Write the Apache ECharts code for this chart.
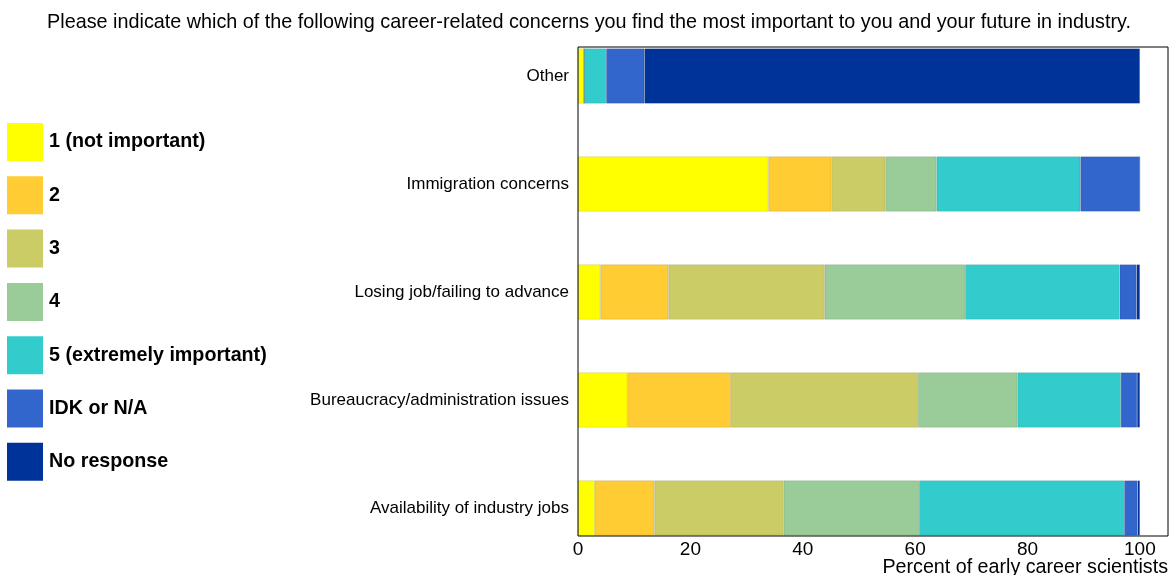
<!DOCTYPE html>
<html>
<head>
<meta charset="utf-8">
<script src="https://cdn.jsdelivr.net/npm/echarts@6/dist/echarts.min.js"></script>
<style>
html,body{margin:0;padding:0;background:#fff;}
#chart{width:1169px;height:575px;}
</style>
</head>
<body>
<div id="chart"></div>
<script>
// Categories, bottom to top
const categories = ['Availability of industry jobs', 'Bureaucracy/administration issues', 'Losing job/failing to advance', 'Immigration concerns', 'Other'];
const seriesNames = ['1 (not important)', '2', '3', '4', '5 (extremely important)', 'IDK or N/A', 'No response'];
const colors = ['#FFFF00', '#FFCC33', '#CCCC66', '#99CC99', '#33CCCC', '#3366CC', '#003399'];
// Percent values per response level, following category order above
const s1  = [3.0, 8.8, 4.0, 33.9, 1.1];
const s2  = [10.6, 18.4, 12.1, 11.2, 0];
const s3  = [23.0, 33.3, 27.8, 9.6, 0];
const s4  = [24.1, 17.7, 25.0, 9.1, 0];
const s5  = [36.5, 18.4, 27.5, 25.6, 3.9];
const sIdk = [2.4, 2.9, 3.0, 10.6, 6.8];
const sNr  = [0.4, 0.5, 0.6, 0, 88.2];
const xTicks = [0, 20, 40, 60, 80, 100];
const titleText = 'Please indicate which of the following career-related concerns you find the most important to you and your future in industry.';
const xName = 'Percent of early career scientists';

const allValues = [s1, s2, s3, s4, s5, sIdk, sNr];
const chart = echarts.init(document.getElementById('chart'));
const font = 'Liberation Sans, Arial, sans-serif';

const series = allValues.map((vals, i) => ({
  name: seriesNames[i],
  type: 'bar',
  stack: 'total',
  xAxisIndex: 0,
  yAxisIndex: 0,
  barWidth: '51%',
  data: vals,
  itemStyle: { color: colors[i], borderColor: 'rgba(0,0,0,0.18)', borderWidth: 0.6 },
  emphasis: { disabled: true },
  animation: false
}));

chart.setOption({
  animation: false,
  textStyle: { fontFamily: font },
  title: {
    text: titleText,
    left: 584,
    textAlign: 'center',
    top: 8,
    textStyle: { fontFamily: font, fontSize: 19.8, fontWeight: 'normal', color: '#000' }
  },
  legend: {
    orient: 'vertical',
    left: 7,
    top: 123,
    padding: 0,
    icon: 'rect',
    itemWidth: 36,
    itemHeight: 38,
    itemGap: 15.3,
    selectedMode: false,
    data: seriesNames,
    itemStyle: { borderWidth: 0 },
    textStyle: { fontFamily: font, fontSize: 19.7, fontWeight: 'bold', color: '#000', padding: [2, 0, 0, 1] }
  },
  grid: [
    { left: 578, width: 590, top: 22, height: 540, containLabel: false },
    { left: 578, width: 590, top: 47, height: 489, show: true, borderColor: '#000', borderWidth: 1, backgroundColor: 'transparent', z: 10 }
  ],
  xAxis: [
    { gridIndex: 0, type: 'value', min: 0, max: 105, show: false, splitLine: { show: false } },
    { gridIndex: 1, type: 'value', min: 0, max: 105, interval: 20,
      axisLine: { show: false }, axisTick: { show: false }, splitLine: { show: false },
      axisLabel: { showMaxLabel: false, margin: 4, fontSize: 19, color: '#000', fontFamily: font,
        formatter: v => xTicks.includes(v) ? String(v) : '' } }
  ],
  yAxis: [
    { gridIndex: 0, type: 'category', data: categories,
      axisLine: { show: false }, axisTick: { show: false }, splitLine: { show: false },
      axisLabel: { margin: 9, fontSize: 17, color: '#000', fontFamily: font } },
    { gridIndex: 1, type: 'value', min: 0, max: 1, show: false }
  ],
  graphic: [
    { type: 'text', right: 1, top: 558,
      style: { text: xName, font: '19.7px ' + font, fill: '#000', textAlign: 'right' } }
  ],
  series: series
});
</script>
</body>
</html>
